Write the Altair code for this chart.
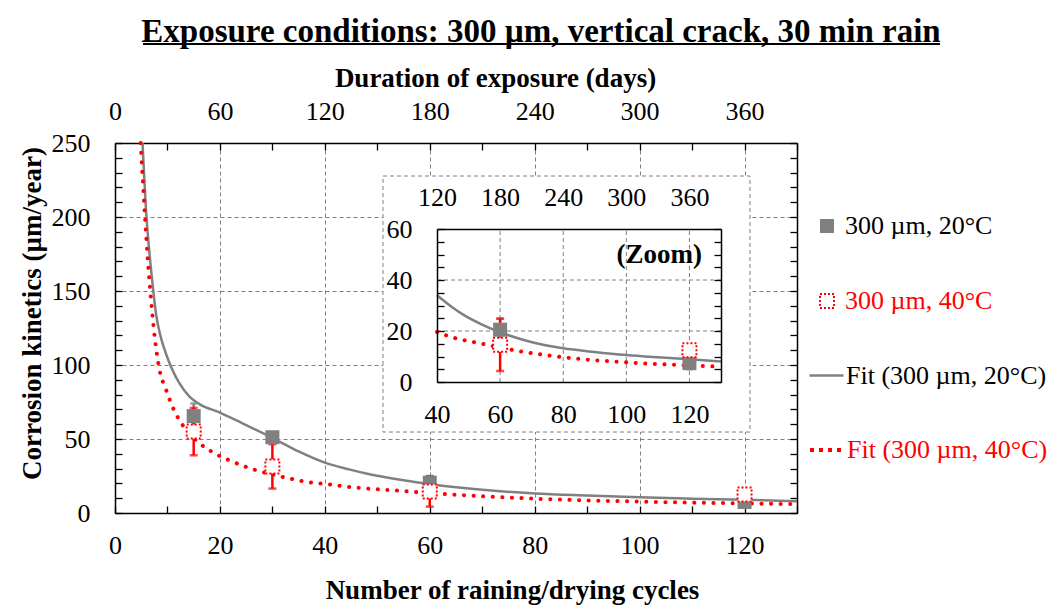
import altair as alt
import pandas as pd

FONT = "Liberation Serif"
GRAY = "#808080"
RED = "#FF0000"
GRID = "#7f7f7f"

# ---------------- data ----------------
cycles = [15, 30, 60, 120]
gray_mean = [65.5, 51.2, 20.5, 7.4]
gray_low = [57.0, 48.5, 16.0, 5.0]
gray_high = [74.0, 54.0, 25.0, 9.8]
red_mean = [55.0, 31.5, 14.6, 12.5]
red_low = [39.0, 16.5, 4.3, 11.0]
red_high = [71.0, 46.5, 24.8, 14.0]

fit20_x = [5.25, 6.0, 6.64, 7.3, 7.8, 8.5, 9.3, 10.3, 11.3, 12.3, 14.2, 16.1, 19.9,
           24.3, 29.9, 35.1, 40.0, 44.6, 48.3, 54.1, 60.2, 69.5, 80.0, 89.9, 100.0,
           110.0, 120.0, 130.0]
fit20_y = [250, 200, 173, 150, 135, 122, 112, 102, 94, 87.6, 78.6, 73.6, 68,
           60.6, 51, 41.4, 34, 29.5, 26.4, 22.6, 19.4, 15.8, 13.2, 11.8, 10.6,
           9.7, 8.9, 8.0]

fit40_x = [4.9, 5.7, 6.3, 7.0, 7.6, 8.5, 9.7, 11.1, 13.0, 15.5, 19.0, 22.4,
           26.2, 31.8, 37.6, 40.0, 45.2, 53.5, 64.2, 80.0, 100.0, 120.0, 130.0]
fit40_y = [250, 201, 169, 139, 118, 96.6, 83.6, 70.7, 58.8, 48.9, 40.3, 34.7,
           29.7, 24.5, 20.5, 19.6, 17.4, 15.2, 12.5, 9.7, 7.7, 6.5, 6.0]

x_major = [0, 20, 40, 60, 80, 100, 120]
x_minor = list(range(0, 131, 10))
y_major = [0, 50, 100, 150, 200, 250]
y_minor = list(range(0, 251, 10))

in_x_major = [40, 60, 80, 100, 120]
in_y_major = [0, 20, 40, 60]
in_y_minor = list(range(0, 61, 5))
in_grid_x = [60, 80, 100, 120]
in_grid_y = [20, 40]

lab_20 = "300 µm, 20°C"
lab_40 = "300 µm, 40°C"
lab_f20 = "Fit (300 µm, 20°C)"
lab_f40 = "Fit (300 µm, 40°C)"

W, H = 682, 370
# inset frame in plot pixels
IX0, IX1, IY0, IY1 = 322, 606, 239, 86

pts = pd.DataFrame({"cycles": cycles, "g": gray_mean, "glo": gray_low, "ghi": gray_high,
                    "r": red_mean, "rlo": red_low, "rhi": red_high,
                    "s20": [lab_20] * 4, "s40": [lab_40] * 4})
fit20 = pd.DataFrame({"x": fit20_x, "y": fit20_y, "s": [lab_f20] * len(fit20_x)})
fit40 = pd.DataFrame({"x": fit40_x, "y": fit40_y, "s": [lab_f40] * len(fit40_x)})
one = pd.DataFrame({"a": [0]})


def sx():
    return alt.Scale(domain=[0, 130], nice=False, zero=False)


def sy():
    return alt.Scale(domain=[0, 250], nice=False, zero=False)


def isx():
    return alt.Scale(domain=[40, 130], range=[IX0, IX1], nice=False, zero=False)


def isy():
    return alt.Scale(domain=[0, 60], range=[IY0, IY1], nice=False, zero=False)


LFS = 26
LBL = dict(labelFont=FONT, labelFontSize=LFS, labelColor="black", labelFlush=False,
           labelOverlap=False)
TTL = dict(titleFont=FONT, titleFontSize=27, titleFontWeight="bold", titleColor="black",
           titleAlign="center", titleBaseline="middle")


def tick_axis(orient, values, offset, z=0):
    return alt.Axis(orient=orient, values=values, offset=offset, ticks=True, tickSize=7,
                    tickWidth=1.3, tickColor="black", labels=False, domain=False,
                    grid=False, title=None, zindex=z)


ax_bottom = alt.Axis(orient="bottom", values=x_major, grid=True, gridDash=[4, 3],
                     gridColor=GRID, gridWidth=1, ticks=False, domain=True,
                     domainColor="black", domainWidth=1.5, labelPadding=19,
                     title="Number of raining/drying cycles", titleX=397, titleY=77,
                     titleAngle=0, **LBL, **TTL)
ax_left = alt.Axis(orient="left", values=y_major, grid=True, gridDash=[4, 3],
                   gridColor=GRID, gridWidth=1, ticks=False, domain=True,
                   domainColor="black", domainWidth=1.5, labelPadding=25,
                   title="Corrosion kinetics (µm/year)", titleX=-83, titleY=170,
                   titleAngle=-90, **LBL, **TTL)
ax_top = alt.Axis(orient="top", values=x_major, labelExpr="datum.value * 3", grid=False,
                  ticks=False, domain=True, domainColor="black", domainWidth=1.5,
                  labelPadding=19, title="Duration of exposure (days)", titleX=380,
                  titleY=-65, titleAngle=0, **LBL, **TTL)
ax_right = alt.Axis(orient="right", grid=False, ticks=False, labels=False, domain=True,
                    domainColor="black", domainWidth=1.5, title=None)

in_bottom = alt.Axis(orient="bottom", offset=-(H - IY0), values=in_x_major, grid=False,
                     ticks=False, domain=True, domainColor="black", domainWidth=1.5,
                     labelPadding=19, title=None, zindex=1, **LBL)
in_top = alt.Axis(orient="top", offset=-IY1, values=in_x_major,
                  labelExpr="datum.value * 3", grid=False, ticks=False, domain=True,
                  domainColor="black", domainWidth=1.5, labelPadding=19, title=None,
                  zindex=1, **LBL)
in_left = alt.Axis(orient="left", offset=-IX0, values=in_y_major, grid=False, ticks=False,
                   domain=True, domainColor="black", domainWidth=1.5, labelPadding=25,
                   title=None, zindex=1, **LBL)
in_right = alt.Axis(orient="right", offset=-(W - IX1), grid=False, ticks=False,
                    labels=False, domain=True, domainColor="black", domainWidth=1.5,
                    title=None, zindex=1)


def leg(x, y, color, **kw):
    return alt.Legend(orient="none", legendX=x, legendY=y, title=None, labelFont=FONT,
                      labelFontSize=LFS, labelColor=color, labelLimit=400, padding=0, **kw)


layers = []

# ---------------- main plot ----------------
layers.append(
    alt.Chart(fit20).mark_line(strokeWidth=2.5, interpolate="monotone").encode(
        x=alt.X("x:Q", scale=sx(), axis=ax_bottom),
        y=alt.Y("y:Q", scale=sy(), axis=ax_left),
        color=alt.Color("s:N", scale=alt.Scale(range=[GRAY]),
                        legend=leg(693, 214, "black", symbolType="stroke", symbolSize=1156,
                                   symbolStrokeWidth=2.5, labelOffset=1)),
    )
)
layers.append(
    alt.Chart(fit40).mark_line(strokeWidth=4, strokeDash=[0.1, 9.5], strokeCap="round",
                               interpolate="monotone").encode(
        x=alt.X("x:Q", scale=sx(), axis=ax_top),
        y=alt.Y("y:Q", scale=sy(), axis=ax_right),
        color=alt.Color("s:N", scale=alt.Scale(range=[RED]),
                        legend=leg(693, 288, RED, symbolType="stroke", symbolSize=1156,
                                   symbolStrokeWidth=4, symbolDash=[4, 5], labelOffset=1)),
    )
)


def errbars(df, xs, ys, lo, hi, color, cap):
    base = alt.Chart(df)
    rule = base.mark_rule(color=color, strokeWidth=2.5).encode(
        x=alt.X("cycles:Q", scale=xs(), axis=None),
        y=alt.Y(f"{lo}:Q", scale=ys(), axis=None),
        y2=f"{hi}:Q",
    )
    c1 = base.mark_tick(orient="horizontal", size=cap, thickness=2.5, color=color).encode(
        x=alt.X("cycles:Q", scale=xs(), axis=None),
        y=alt.Y(f"{lo}:Q", scale=ys(), axis=None),
    )
    c2 = base.mark_tick(orient="horizontal", size=cap, thickness=2.5, color=color).encode(
        x=alt.X("cycles:Q", scale=xs(), axis=None),
        y=alt.Y(f"{hi}:Q", scale=ys(), axis=None),
    )
    return [rule, c1, c2]


layers += errbars(pts, sx, sy, "glo", "ghi", GRAY, 7)
layers += errbars(pts, sx, sy, "rlo", "rhi", RED, 8)

layers.append(
    alt.Chart(pts).mark_point(shape="square", filled=True, size=196, opacity=1).encode(
        x=alt.X("cycles:Q", scale=sx(), axis=tick_axis("bottom", x_minor, -7)),
        y=alt.Y("g:Q", scale=sy(), axis=tick_axis("left", y_minor, -7)),
        color=alt.Color("s20:N", scale=alt.Scale(range=[GRAY]),
                        legend=leg(699, 70, "black", symbolType="square", symbolSize=196,
                                   symbolFillColor=GRAY, labelOffset=5)),
    )
)
layers.append(
    alt.Chart(pts).mark_point(shape="square", filled=False, fill="white", fillOpacity=1,
                              size=196, opacity=1, strokeWidth=2, strokeDash=[2, 2]).encode(
        x=alt.X("cycles:Q", scale=sx(), axis=tick_axis("top", x_minor, -7)),
        y=alt.Y("r:Q", scale=sy(), axis=tick_axis("right", y_minor, -7)),
        stroke=alt.Stroke("s40:N", scale=alt.Scale(range=[RED]),
                          legend=leg(699, 145, RED, symbolType="square", symbolSize=196,
                                     symbolFillColor="white", symbolStrokeWidth=2,
                                     symbolDash=[2, 2], labelOffset=5)),
    )
)

# title underline
layers.append(
    alt.Chart(one).mark_rule(color="black", strokeWidth=2).encode(
        x=alt.value(28), x2=alt.value(825), y=alt.value(-99)
    )
)

# ---------------- inset ----------------
layers.append(
    alt.Chart(one).mark_rect(fill="white", stroke=GRID, strokeDash=[4, 3], strokeWidth=1).encode(
        x=alt.value(268), x2=alt.value(635), y=alt.value(33), y2=alt.value(289)
    )
)
gx = pd.DataFrame({"gx": in_grid_x, "y0": [0] * len(in_grid_x), "y1": [60] * len(in_grid_x)})
gy = pd.DataFrame({"gy": in_grid_y, "x0": [40] * len(in_grid_y), "x1": [130] * len(in_grid_y)})
layers.append(
    alt.Chart(gx).mark_rule(color=GRID, strokeDash=[4, 3], strokeWidth=1).encode(
        x=alt.X("gx:Q", scale=isx(), axis=None),
        y=alt.Y("y0:Q", scale=isy(), axis=None), y2="y1:Q")
)
layers.append(
    alt.Chart(gy).mark_rule(color=GRID, strokeDash=[4, 3], strokeWidth=1).encode(
        y=alt.Y("gy:Q", scale=isy(), axis=None),
        x=alt.X("x0:Q", scale=isx(), axis=None), x2="x1:Q")
)
layers.append(
    alt.Chart(fit20).transform_filter("datum.x >= 40").mark_line(
        strokeWidth=2.5, color=GRAY, interpolate="monotone").encode(
        x=alt.X("x:Q", scale=isx(), axis=in_bottom),
        y=alt.Y("y:Q", scale=isy(), axis=in_left),
    )
)
layers.append(
    alt.Chart(fit40).transform_filter("datum.x >= 40").mark_line(
        strokeWidth=4, strokeDash=[0.1, 9.5], strokeCap="round", color=RED,
        interpolate="monotone").encode(
        x=alt.X("x:Q", scale=isx(), axis=in_top),
        y=alt.Y("y:Q", scale=isy(), axis=in_right),
    )
)
inpts = pts[pts["cycles"] >= 40]
layers += errbars(inpts, isx, isy, "glo", "ghi", GRAY, 7)
layers += errbars(inpts, isx, isy, "rlo", "rhi", RED, 8)
layers.append(
    alt.Chart(inpts).mark_point(shape="square", filled=True, size=196, opacity=1, color=GRAY).encode(
        x=alt.X("cycles:Q", scale=isx(), axis=None),
        y=alt.Y("g:Q", scale=isy(), axis=tick_axis("left", in_y_minor, -(IX0 + 7), 1)),
    )
)
layers.append(
    alt.Chart(inpts).mark_point(shape="square", filled=False, fill="white", fillOpacity=1,
                                size=196, opacity=1, stroke=RED, strokeWidth=2,
                                strokeDash=[2, 2]).encode(
        x=alt.X("cycles:Q", scale=isx(), axis=None),
        y=alt.Y("r:Q", scale=isy(), axis=tick_axis("right", in_y_minor, -(W - IX1 + 7), 1)),
    )
)
zoom = pd.DataFrame({"x": [124], "y": [50], "t": ["(Zoom)"]})
layers.append(
    alt.Chart(zoom).mark_text(font=FONT, fontSize=27, fontWeight="bold", align="right",
                              baseline="middle", color="black").encode(
        x=alt.X("x:Q", scale=isx(), axis=None),
        y=alt.Y("y:Q", scale=isy(), axis=None),
        text="t:N",
    )
)

chart = alt.layer(*layers).resolve_scale(
    x="independent", y="independent", color="independent", stroke="independent"
).properties(
    width=W, height=H,
    title=alt.Title("Exposure conditions: 300 µm, vertical crack, 30 min rain",
                    font=FONT, fontSize=33, fontWeight="bold", color="black",
                    anchor="middle", frame="group", dx=85, offset=-6),
    autosize=alt.AutoSizeParams(type="none"),
    padding={"left": 107, "top": 135, "right": 253, "bottom": 94},
).configure(background="white").configure_view(stroke=None)

chart.save("out.html", embed_options={"renderer": "svg", "actions": False})
